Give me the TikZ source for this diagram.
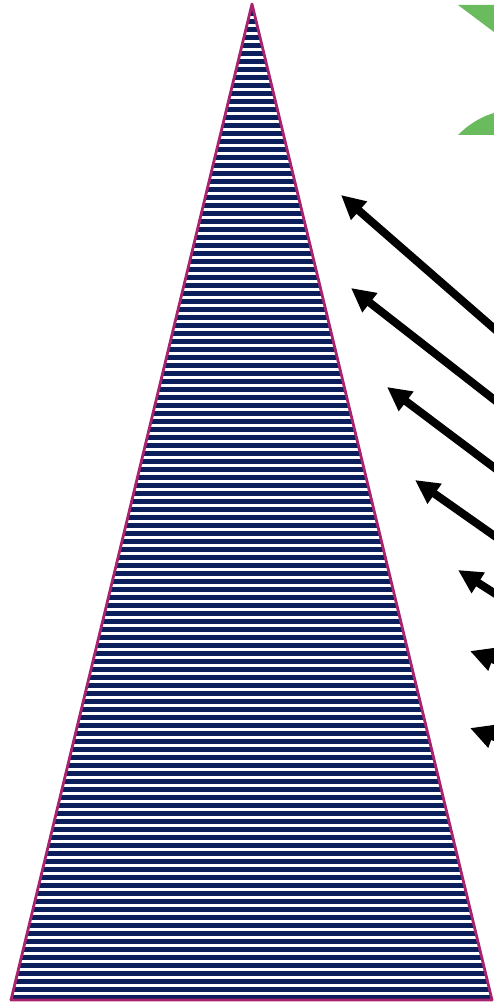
\documentclass[tikz,border=0pt]{standalone}
\usetikzlibrary{arrows.meta}
\definecolor{FigureNavy}{HTML}{0B1F5C}
\definecolor{FigureMagenta}{HTML}{A8226E}
\definecolor{FigureGreen}{HTML}{6ABA5E}
\tikzset{pointer/.style={line width=8pt,-{Triangle[length=24pt,width=23pt]}}}
\begin{document}
\begin{tikzpicture}[x=1pt,y=-1pt]
  \useasboundingbox (0,0) rectangle (494,1003);
  \clip (0,0) rectangle (494,1003);
  \coordinate (apex) at (252,4); \coordinate (bl) at (11,1000); \coordinate (br) at (492,1000);
  % striped cone
  \begin{scope}
    \clip (apex)--(bl)--(br)--cycle;
    \foreach \k in {0,...,124} \fill[FigureNavy] (0,{3.3+8*\k}) rectangle (494,{8+8*\k});
  \end{scope}
  \draw[FigureMagenta,line width=2.8pt,line join=round] (apex)--(bl)--(br)--cycle;
  % green bits at the edge
  \fill[FigureGreen] (458,5)--(494,5)--(494,32)--cycle;
  \fill[FigureGreen] (458,135) .. controls (468,125) and (480,117) .. (494,113)--(494,135)--cycle;
  % incoming arrows
  \foreach \n/\tx/\ty/\sx/\sy in {1/341/195/560/386,2/351/288/560/451,3/387/387/560/517,
      4/415/480/560/582,5/458/570/560/635,6/470/651/560/684,7/470/728/560/761}{
    \coordinate (tip\n) at (\tx,\ty); \coordinate (tail\n) at (\sx,\sy);
    \draw[pointer] (tail\n)--(tip\n);
  }
\end{tikzpicture}
\end{document}
